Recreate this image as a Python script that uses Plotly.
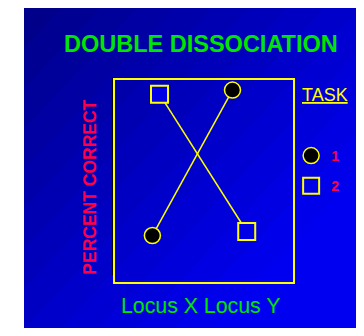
import plotly.graph_objects as go

# Data
task_names = ["1", "2"]
task1_x = [2.1, 6.6]
task1_y = [23, 95]
task2_x = [2.5, 7.4]
task2_y = [93, 25]

title_text = "DOUBLE DISSOCIATION"
x_title = "Locus X Locus Y"
y_title = "PERCENT CORRECT"
legend_title = "TASK"

# figure sits inside the 8px body margin of the page
OFF = 8
W, H = 364 - 2 * OFF, 336 - 2 * OFF
L, R, T, B = 115, 305, 80, 282   # plot area in page pixels


def px_x(p):
    return (p - L) / (R - L)


def px_y(p):
    return (B - p) / (B - T)


fig = go.Figure()

## background gradient (dark top-left -> bright bottom-right)
shapes = []
x0, y0 = 18, 8
shapes.append(dict(type="rect", xref="paper", yref="paper",
                   x0=px_x(x0), x1=px_x(400), y0=px_y(400), y1=px_y(y0),
                   fillcolor="rgb(0,0,240)", line_width=0, layer="below"))
step = 40
s1 = 520
while s1 > 0:
    c = int(135 + 105 * (s1 - step / 2) / 520)
    path = "M %f,%f L %f,%f L %f,%f Z" % (
        px_x(x0), px_y(y0), px_x(x0 + s1), px_y(y0), px_x(x0), px_y(y0 + s1))
    shapes.append(dict(type="path", xref="paper", yref="paper", path=path,
                       fillcolor="rgb(0,0,%d)" % c, line_width=0, layer="below"))
    s1 -= step

# black shadow line left of the box
shapes.append(dict(type="line", xref="paper", yref="paper",
                   x0=px_x(113), x1=px_x(113), y0=px_y(275), y1=px_y(77),
                   line=dict(color="black", width=2), layer="below"))

yellow = "rgb(255,255,0)"
red = "rgb(255,0,70)"
green = "rgb(0,230,0)"

# lines
fig.add_trace(go.Scatter(x=task1_x, y=task1_y, mode="lines",
                         line=dict(color=yellow, width=1.5),
                         showlegend=False, hoverinfo="skip"))
fig.add_trace(go.Scatter(x=task2_x, y=task2_y, mode="lines",
                         line=dict(color=yellow, width=1.5),
                         showlegend=False, hoverinfo="skip"))
# markers
fig.add_trace(go.Scatter(x=task1_x, y=task1_y, mode="markers", name=task_names[0],
                         legendgroup="a",
                         marker=dict(symbol="circle", size=16, color="black",
                                     line=dict(color=yellow, width=1.5))))
fig.add_trace(go.Scatter(x=task2_x, y=task2_y, mode="markers", name=task_names[1],
                         legendgroup="b",
                         marker=dict(symbol="square", size=17, color="rgb(0,0,230)",
                                     line=dict(color=yellow, width=2))))

fig.update_layout(
    width=W, height=H,
    margin=dict(l=L - OFF, r=W - (R - OFF), t=T - OFF, b=H - (B - OFF)),
    paper_bgcolor="white",
    plot_bgcolor="rgba(0,0,0,0)",
    shapes=shapes,
    font=dict(family="Liberation Sans"),
    xaxis=dict(range=[0, 10], showgrid=False, zeroline=False, showticklabels=False,
               ticks="", showline=True, mirror=True, linecolor=yellow, linewidth=2),
    yaxis=dict(range=[0, 100], showgrid=False, zeroline=False, showticklabels=False,
               ticks="", showline=True, mirror=True, linecolor=yellow, linewidth=2),
    legend=dict(x=px_x(303), y=px_y(140), xanchor="left", yanchor="top",
                bgcolor="rgba(0,0,0,0)", font=dict(color=red, size=14, weight="bold"),
                traceorder="grouped", tracegroupgap=9),
    annotations=[
        dict(text="<b>" + title_text + "</b>", xref="paper", yref="paper",
             x=px_x(207), y=px_y(44), xanchor="center", yanchor="middle",
             showarrow=False, font=dict(color=green, size=23.5)),
        dict(text=x_title, xref="paper", yref="paper",
             x=px_x(206), y=px_y(306), xanchor="center", yanchor="middle",
             showarrow=False, font=dict(color=green, size=21.3)),
        dict(text="<b>" + y_title + "</b>", xref="paper", yref="paper",
             x=px_x(88), y=px_y(187), xanchor="center", yanchor="middle",
             textangle=-90, showarrow=False, font=dict(color=red, size=17.5)),
        dict(text="<u>" + legend_title + "</u>", xref="paper", yref="paper",
             x=px_x(313), y=px_y(95), xanchor="left", yanchor="middle",
             showarrow=False, font=dict(color=yellow, size=18)),
    ],
)

fig.write_html("out.html")
